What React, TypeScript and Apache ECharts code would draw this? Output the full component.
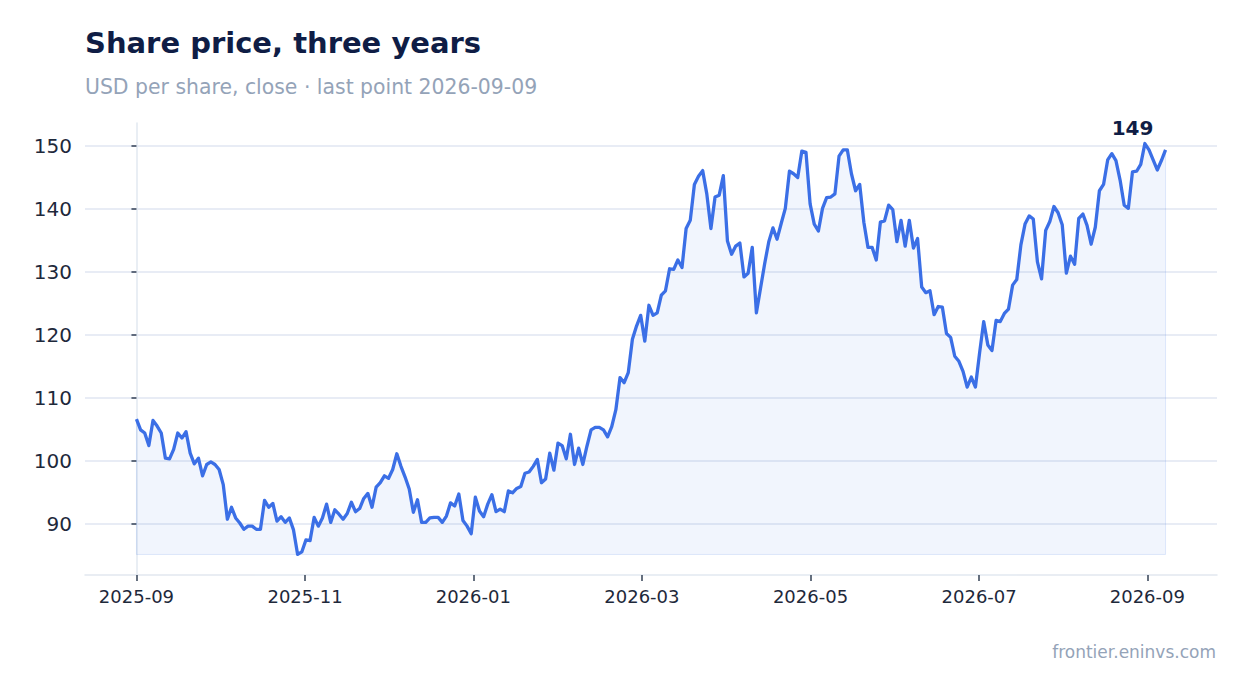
import * as echarts from "echarts";
import { useEffect, useRef } from "react";

// close prices, one point per trading session, read left to right
const prices = [
  106.6, 104.9, 104.4, 102.4, 106.4, 105.5, 104.4, 100.4, 100.3, 101.8,
  104.4, 103.6, 104.6, 101.2, 99.5, 100.4, 97.6, 99.4, 99.8, 99.4,
  98.6, 96.2, 90.7, 92.6, 90.9, 90.1, 89.1, 89.6, 89.6, 89.1,
  89.1, 93.7, 92.6, 93.2, 90.4, 91.1, 90.2, 90.9, 89.0, 85.1,
  85.5, 87.4, 87.3, 91.0, 89.6, 90.9, 93.1, 90.2, 92.2, 91.5,
  90.7, 91.6, 93.4, 91.9, 92.4, 94.0, 94.8, 92.6, 95.8, 96.5,
  97.6, 97.2, 98.6, 101.1, 99.1, 97.4, 95.5, 91.8, 93.8, 90.2,
  90.2, 90.9, 91.0, 91.0, 90.2, 91.2, 93.3, 92.8, 94.7, 90.5,
  89.6, 88.4, 94.2, 92.0, 91.1, 93.1, 94.6, 91.9, 92.3, 91.9,
  95.2, 94.9, 95.6, 95.9, 98.0, 98.2, 99.1, 100.2, 96.5, 97.1,
  101.2, 98.5, 102.8, 102.4, 100.3, 104.2, 99.4, 102.0, 99.4, 102.3,
  104.9, 105.3, 105.3, 104.9, 103.8, 105.4, 108.1, 113.2, 112.4, 114.0,
  119.3, 121.4, 123.1, 119.0, 124.7, 123.1, 123.5, 126.3, 127.0, 130.5,
  130.4, 131.9, 130.7, 136.9, 138.2, 143.9, 145.2, 146.1, 142.4, 136.9,
  141.9, 142.2, 145.3, 134.9, 132.8, 134.1, 134.6, 129.2, 129.8, 133.9,
  123.5, 127.4, 131.3, 134.8, 137.0, 135.2, 137.7, 140.1, 146.0, 145.6,
  145.0, 149.2, 149.0, 140.8, 137.6, 136.5, 140.1, 141.8, 141.9, 142.4,
  148.4, 149.4, 149.4, 145.6, 142.9, 143.9, 137.9, 133.9, 133.9, 131.9,
  137.9, 138.1, 140.6, 139.9, 134.8, 138.2, 134.1, 138.2, 133.8, 135.3,
  127.6, 126.7, 127.0, 123.2, 124.5, 124.4, 120.2, 119.6, 116.6, 115.8,
  114.2, 111.7, 113.3, 111.7, 117.1, 122.1, 118.4, 117.5, 122.3, 122.1,
  123.4, 124.1, 127.9, 128.8, 134.3, 137.6, 138.9, 138.4, 131.6, 128.9,
  136.6, 138.0, 140.4, 139.4, 137.5, 129.8, 132.5, 131.2, 138.5, 139.2,
  137.4, 134.4, 137.1, 142.9, 143.9, 147.8, 148.8, 147.7, 144.6, 140.6,
  140.1, 145.9, 146.0, 147.1, 150.4, 149.4, 147.8, 146.2, 147.7, 149.4,
];

// x ticks sit on session index positions
const xTickAt = [0, 40.8, 81.5, 122.3, 163.1, 203.9, 244.6];
const xTickLabels = ["2025-09", "2025-11", "2026-01", "2026-03", "2026-05", "2026-07", "2026-09"];
const yTicks = [90, 100, 110, 120, 130, 140, 150];

const FONT = "DejaVu Sans, sans-serif";
const NAVY = "#0f1d45";
const MUTED = "#94a3b8";
const LINE = "#3b6fe6";

export default function App() {
  const chartRef = useRef<HTMLDivElement | null>(null);

  useEffect(() => {
    document.body.style.margin = "0";
    const el = chartRef.current;
    if (!el) return;

    const chart = echarts.init(el, undefined, { renderer: "svg" });

    const last = prices.length - 1;
    const floor = Math.min(...prices);
    const pad = (v: { min: number; max: number }) => (v.max - v.min) * 0.05;

    const lineData = prices.map((v, i) => [i, v]);

    // faint outline round the filled area
    const edgeData = [
      [0, prices[0]],
      [0, floor],
      [last, floor],
      [last, prices[last]],
    ];

    const option: echarts.EChartsOption = {
      animation: false,
      grid: { left: 85, right: 30, top: 123, bottom: 118 },
      xAxis: {
        type: "value",
        min: (v) => v.min - pad(v),
        max: (v) => v.max + pad(v),
        axisLine: { show: true, lineStyle: { color: "#e2e8f0", width: 1.5 } },
        axisTick: {
          show: true,
          customValues: xTickAt,
          length: 6,
          lineStyle: { color: "#334155", width: 1.5 },
        },
        axisLabel: {
          customValues: xTickAt,
          formatter: (v: number) => {
            const k = xTickAt.findIndex((t) => Math.abs(t - v) < 0.01);
            return k >= 0 ? xTickLabels[k] : "";
          },
          margin: 12,
          fontFamily: FONT,
          fontSize: 18,
          color: "#1e293b",
        },
        splitLine: { show: false },
      },
      yAxis: {
        type: "value",
        min: (v) => v.min - pad(v),
        max: (v) => v.max + pad(v),
        axisLine: { show: true, lineStyle: { color: "#e2e8f0", width: 1.5 } },
        axisTick: {
          show: true,
          customValues: yTicks,
          length: 5,
          lineStyle: { color: "#334155", width: 1.5 },
        },
        axisLabel: {
          customValues: yTicks,
          margin: 13,
          fontFamily: FONT,
          fontSize: 20,
          color: "#1e293b",
        },
        splitLine: { show: true, lineStyle: { color: "#e0e6f2", width: 1.5 } },
      },
      series: [
        {
          type: "line",
          data: edgeData,
          silent: true,
          showSymbol: false,
          lineStyle: { color: "rgba(59,111,230,0.14)", width: 1 },
          z: 1,
        },
        {
          type: "line",
          data: lineData,
          showSymbol: false,
          symbol: "none",
          lineStyle: { color: LINE, width: 3.3, join: "round" },
          areaStyle: { color: "rgba(59,111,230,0.1)", origin: floor },
          endLabel: {
            show: true,
            formatter: (p: any) => String(Math.round(p.value[1])),
            distance: 0,
            align: "center",
            verticalAlign: "middle",
            offset: [-33, -22],
            fontFamily: FONT,
            fontSize: 20,
            fontWeight: "bold",
            color: NAVY,
          },
          z: 3,
        },
      ],
      graphic: [
        {
          type: "text",
          x: 85,
          y: 43.3,
          style: {
            text: "Share price, three years",
            fontFamily: FONT,
            fontSize: 29,
            fontWeight: "bold",
            fill: NAVY,
            verticalAlign: "middle",
          },
        },
        {
          type: "text",
          x: 85,
          y: 87.1,
          style: {
            text: "USD per share, close · last point 2026-09-09",
            fontFamily: FONT,
            fontSize: 20.4,
            fill: MUTED,
            verticalAlign: "middle",
          },
        },
        {
          type: "text",
          x: 1216,
          y: 652.4,
          style: {
            text: "frontier.eninvs.com",
            fontFamily: FONT,
            fontSize: 17,
            fill: MUTED,
            align: "right",
            verticalAlign: "middle",
          },
        },
      ],
    };

    chart.setOption(option);

    return () => {
      if (!chart.isDisposed()) chart.dispose();
    };
  }, []);

  return <div ref={chartRef} style={{ width: 1247, height: 693 }} />;
}
